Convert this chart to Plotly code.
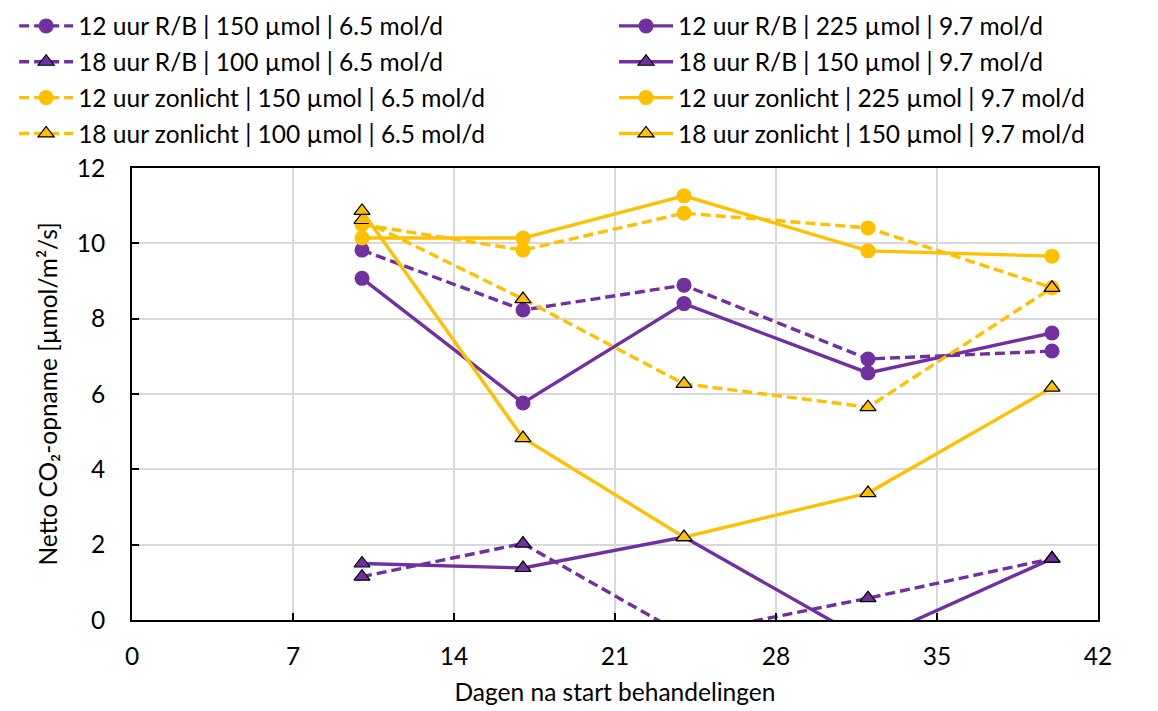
import plotly.graph_objects as go

days = [10, 17, 24, 32, 40]

rb12_150 = [9.82, 8.23, 8.89, 6.93, 7.14]
rb12_225 = [9.07, 5.76, 8.40, 6.56, 7.62]
rb18_100 = [1.15, 2.03, -0.40, 0.58, 1.63]
rb18_150 = [1.50, 1.38, 2.20, -0.57, 1.63]
zl12_150 = [10.50, 9.82, 10.80, 10.41, 8.82]
zl12_225 = [10.14, 10.14, 11.26, 9.80, 9.66]
zl18_100 = [10.62, 8.52, 6.27, 5.65, 8.82]
zl18_150 = [10.86, 4.83, 2.20, 3.37, 6.17]

names = [
    "12 uur R/B | 150 µmol | 6.5 mol/d",
    "12 uur R/B | 225 µmol | 9.7 mol/d",
    "18 uur R/B | 100 µmol | 6.5 mol/d",
    "18 uur R/B | 150 µmol | 9.7 mol/d",
    "12 uur zonlicht | 150 µmol | 6.5 mol/d",
    "12 uur zonlicht | 225 µmol | 9.7 mol/d",
    "18 uur zonlicht | 100 µmol | 6.5 mol/d",
    "18 uur zonlicht | 150 µmol | 9.7 mol/d",
]
series = [rb12_150, rb12_225, rb18_100, rb18_150, zl12_150, zl12_225, zl18_100, zl18_150]

PURPLE = "#7030A0"
YELLOW = "#FFC000"
colors = [PURPLE, PURPLE, PURPLE, PURPLE, YELLOW, YELLOW, YELLOW, YELLOW]
symbols = ["circle", "circle", "triangle-up", "triangle-up",
           "circle", "circle", "triangle-up", "triangle-up"]
dashed = [True, False, True, False, True, False, True, False]

FONT = "Lato"
FS = 24.5

fig = go.Figure()
for i, (nm, ys) in enumerate(zip(names, series)):
    tri = symbols[i] == "triangle-up"
    fig.add_trace(go.Scatter(
        x=days, y=ys, name=nm, mode="lines+markers",
        legend="legend" if dashed[i] else "legend2",
        legendgroup=f"g{i}",
        line=dict(color=colors[i], width=3.4, dash="10px,5px" if dashed[i] else "solid"),
        marker=dict(symbol=symbols[i], size=14 if tri else 15, color=colors[i],
                    line=dict(color="black" if tri else colors[i], width=1.2 if tri else 0)),
    ))

axis_common = dict(
    showline=True, linecolor="black", linewidth=2, mirror=True,
    showgrid=True, gridcolor="#D9D9D9", gridwidth=1.5,
    ticks="inside", ticklen=7, tickwidth=1.5, tickcolor="black",
    tickfont=dict(family=FONT, size=FS, color="black"),
    zeroline=False, automargin=False,
)

fig.update_layout(
    width=1158, height=711,
    margin=dict(l=132, r=60, t=168, b=91, autoexpand=False),
    paper_bgcolor="white", plot_bgcolor="white",
    font=dict(family=FONT, size=FS, color="black"),
    xaxis=dict(range=[0, 42], tickvals=[0, 7, 14, 21, 28, 35, 42],
               ticklabelstandoff=14,
               title=dict(text="Dagen na start behandelingen", font=dict(family=FONT, size=FS), standoff=14),
               **axis_common),
    yaxis=dict(range=[0, 12], tickvals=[0, 2, 4, 6, 8, 10, 12],
               ticklabelstandoff=20,
               title=dict(text="Netto CO₂-opname [µmol/m²/s]", font=dict(family=FONT, size=FS), standoff=12),
               **axis_common),
    legend=dict(x=-0.122, y=1.364, xanchor="left", yanchor="top",
                font=dict(family=FONT, size=FS, color="black"),
                tracegroupgap=1, bgcolor="rgba(0,0,0,0)", itemwidth=54),
    legend2=dict(x=0.499, y=1.364, xanchor="left", yanchor="top",
                 font=dict(family=FONT, size=FS, color="black"),
                 tracegroupgap=1, bgcolor="rgba(0,0,0,0)", itemwidth=54),
)

fig.write_html("out.html")
